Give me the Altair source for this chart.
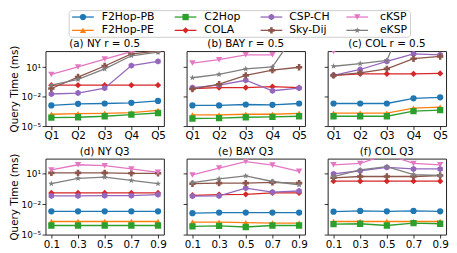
import math
import altair as alt
import pandas as pd

# ---------------- data (query time in ms) ----------------
methods = ["F2Hop-PB", "F2Hop-PE", "C2Hop", "COLA", "CSP-CH", "Sky-Dij", "cKSP", "eKSP"]
colors = ["#1f77b4", "#ff7f0e", "#2ca02c", "#d62728", "#9467bd", "#8c564b", "#e377c2", "#7f7f7f"]
q_labels = ["Q1", "Q2", "Q3", "Q4", "Q5"]
r_labels = ["0.1", "0.3", "0.5", "0.7", "0.9"]
titles = ["(a) NY r = 0.5", "(b) BAY r = 0.5", "(c) COL r = 0.5",
          "(d) NY Q3", "(e) BAY Q3", "(f) COL Q3"]

ny_r05 = {
    "F2Hop-PB": [0.00126, 0.00186, 0.0020, 0.00234, 0.0037],
    "F2Hop-PE": [1.6e-4, 1.86e-4, 2.0e-4, 2.34e-4, 4.0e-4],
    "C2Hop":    [7.4e-5, 7.9e-5, 1.0e-4, 1.48e-4, 2.14e-4],
    "COLA":     [0.148, 0.148, 0.148, 0.148, 0.148],
    "CSP-CH":   [0.0186, 0.0234, 0.074, 14.8, 40],
    "Sky-Dij":  [0.068, 1.0, 13.5, 234, 440],
    "cKSP":     [1.86, 10.7, 68, 400, 1600],
    "eKSP":     [0.148, 0.59, 6.8, 148, 340],
}
bay_r05 = {
    "F2Hop-PB": [0.00126, 0.00126, 0.00158, 0.00148, 0.0020],
    "F2Hop-PE": [1.35e-4, 1.35e-4, 1.6e-4, 1.6e-4, 2.0e-4],
    "C2Hop":    [5.9e-5, 6.3e-5, 7.9e-5, 8.5e-5, 1.0e-4],
    "COLA":     [0.068, 0.085, 0.085, 0.107, 0.085],
    "CSP-CH":   [0.085, 0.148, 0.47, 0.04, 0.074],
    "Sky-Dij":  [0.059, 0.186, 1.48, 5.0, 10],
    "cKSP":     [27, 59, 186, 186, None],
    "eKSP":     [0.85, 1.86, 6.8, 10.7, 1.0e5],
}
col_r05 = {
    "F2Hop-PB": [0.0020, 0.0020, 0.0020, 0.0068, 0.0085],
    "F2Hop-PE": [2.1e-4, 2.1e-4, 2.1e-4, 6.8e-4, 8.5e-4],
    "C2Hop":    [1.0e-4, 1.0e-4, 1.0e-4, 3.4e-4, 4.3e-4],
    "COLA":     [1.48, 2.14, 2.14, 2.14, 2.34],
    "CSP-CH":   [1.48, 5.9, 40, 234, 186],
    "Sky-Dij":  [1.48, 2.7, 6.8, 74, 126],
    "cKSP":     [400, 1.0e4, 1.0e4, 1.0e4, 1.0e4],
    "eKSP":     [12.6, 23, 50, 1.0e8, 1.0e8],
}
ny_q3 = {
    "F2Hop-PB": [0.0020, 0.0020, 0.0020, 0.0020, 0.0020],
    "F2Hop-PE": [1.95e-4, 1.95e-4, 1.95e-4, 1.95e-4, 1.95e-4],
    "C2Hop":    [7.9e-5, 7.9e-5, 7.9e-5, 7.9e-5, 7.9e-5],
    "COLA":     [0.129, 0.129, 0.129, 0.129, 0.129],
    "CSP-CH":   [0.066, 0.066, 0.071, 0.071, 0.089],
    "Sky-Dij":  [12.3, 12.3, 12.3, 11.2, 11.2],
    "cKSP":     [24, 78, 63, 30, 14],
    "eKSP":     [1.05, 3.6, 4.6, 2.2, 1.05],
}
bay_q3 = {
    "F2Hop-PB": [0.00129, 0.00148, 0.00148, 0.00148, 0.00148],
    "F2Hop-PE": [1.7e-4, 1.7e-4, 1.48e-4, 1.38e-4, 1.38e-4],
    "C2Hop":    [6.5e-5, 7.4e-5, 5.6e-5, 7.9e-5, 7.9e-5],
    "COLA":     [0.076, 0.089, 0.095, 0.129, 0.129],
    "CSP-CH":   [0.062, 0.066, 0.39, 0.158, 0.20],
    "Sky-Dij":  [1.05, 1.2, 1.2, 1.41, 1.2],
    "cKSP":     [7.8, 37, 162, 72, 17.4],
    "eKSP":     [1.32, 3.2, 6.3, 1.74, 0.83],
}
col_q3 = {
    "F2Hop-PB": [0.0018, 0.00214, 0.0020, 0.00214, 0.0020],
    "F2Hop-PE": [1.95e-4, 1.95e-4, 1.95e-4, 1.95e-4, 1.95e-4],
    "C2Hop":    [1.1e-4, 1.17e-4, 7.9e-5, 1.38e-4, 1.17e-4],
    "COLA":     [1.86, 1.86, 1.86, 1.86, 1.86],
    "CSP-CH":   [9.8, 20, 43, 30, 30],
    "Sky-Dij":  [4.0, 5.4, 5.4, 5.4, 6.8],
    "cKSP":     [78, 105, 800, 105, 78],
    "eKSP":     [5.4, 24, 50, 8.3, 6.8],
}

# ---------------- styling ----------------
FONT = "DejaVu Sans"
PANEL_W = 120
hexagon = "M0,-1L0.866,-0.5L0.866,0.5L0,1L-0.866,0.5L-0.866,-0.5Z"
star_pts = []
for k in range(10):
    ang = -math.pi / 2 + k * math.pi / 5
    rr = 1.0 if k % 2 == 0 else 0.42
    star_pts.append(f"{rr * math.cos(ang):.3f},{rr * math.sin(ang):.3f}")
star = "M" + "L".join(star_pts) + "Z"
shapes = ["circle", "triangle-up", "square", "diamond", hexagon, "cross", "triangle-down", star]
sizes = [40, 42, 36, 55, 48, 46, 48, 72]

color_scale = alt.Scale(domain=methods, range=colors)
shape_scale = alt.Scale(domain=methods, range=shapes)
size_scale = alt.Scale(domain=methods, range=sizes)

YTOP = {1: 10 ** 2.65, 2: 10 ** 2.5}
label_expr = ("datum.value > 1 ? '10\u00b9' : datum.value > 0.001 ? '10\u207b\u00b2' : '10\u207b\u2075'")

# legend layout (relative to the middle panel of row 1)
leg_marker_x = [-105, -1, 86, 173]
leg_text_x = [-86, 18, 104, 196]
leg_row_y = [-34.5, -21]


def panel(series, xlabels, title, first_col, row, with_legend=False):
    recs = []
    for m in methods:
        for xl, v in zip(xlabels, series[m]):
            recs.append({"method": m, "x": xl, "t": v})
    df = pd.DataFrame(recs)
    x = alt.X("x:O", sort=xlabels,
              scale=alt.Scale(type="point", domain=xlabels, padding=0.22),
              axis=alt.Axis(title=None, labelAngle=0, labelFontSize=10.5, labelPadding=1.5))
    y = alt.Y("t:Q",
              scale=alt.Scale(type="log", domain=[1e-5, YTOP[row]], nice=False),
              axis=alt.Axis(values=[1e-5, 1e-2, 10], labelExpr=label_expr, labels=first_col,
                            labelFontSize=9, labelPadding=1.5, grid=False,
                            title="Query Time (ms)" if first_col else None,
                            titleFontSize=10.5, titlePadding=2))
    color = alt.Color("method:N", scale=color_scale, legend=None)
    base = alt.Chart(df)
    lines = base.mark_line(clip=True, strokeWidth=1.3).encode(x=x, y=y, color=color)
    pts = base.mark_point(clip=True, filled=True, opacity=1).encode(
        x=x, y=y, color=color,
        shape=alt.Shape("method:N", scale=shape_scale, legend=None),
        size=alt.Size("method:N", scale=size_scale, legend=None))
    ttl = alt.Chart(pd.DataFrame({"title": [title]})).mark_text(
        fontSize=10.5, font=FONT, align="center", baseline="alphabetic", color="black").encode(
        x=alt.value(PANEL_W / 2), y=alt.value(-4), text="title:N")
    layers = [lines, pts, ttl]
    if with_legend:
        lrec = []
        for i, m in enumerate(methods):
            c, r = i // 2, i % 2
            lrec.append({"method": m, "mx": leg_marker_x[c], "x1": leg_marker_x[c] - 11,
                         "x2": leg_marker_x[c] + 11, "tx": leg_text_x[c], "ly": leg_row_y[r]})
        ldf = pd.DataFrame(lrec)
        lb = alt.Chart(ldf)
        box = alt.Chart(pd.DataFrame({"k": [0]})).mark_rect(
            fill="white", stroke="#cccccc", strokeWidth=1, cornerRadius=3).encode(
            x=alt.value(-119), x2=alt.value(227), y=alt.value(-41), y2=alt.value(-14))
        lrule = lb.mark_rule(strokeWidth=1.3).encode(
            x=alt.X("x1:Q", scale=None, axis=None), x2="x2:Q",
            y=alt.Y("ly:Q", scale=None, axis=None), color=color)
        lpt = lb.mark_point(filled=True, opacity=1).encode(
            x=alt.X("mx:Q", scale=None, axis=None), y=alt.Y("ly:Q", scale=None, axis=None),
            color=color,
            shape=alt.Shape("method:N", scale=shape_scale, legend=None),
            size=alt.Size("method:N", scale=size_scale, legend=None))
        ltx = lb.mark_text(align="left", baseline="middle", fontSize=11, font=FONT, color="black").encode(
            x=alt.X("tx:Q", scale=None, axis=None), y=alt.Y("ly:Q", scale=None, axis=None),
            text="method:N")
        layers = [box, lrule, lpt, ltx] + layers
    return alt.layer(*layers).properties(width=PANEL_W, height=76 if row == 1 else 77)


charts = [
    panel(ny_r05, q_labels, titles[0], True, 1),
    panel(bay_r05, q_labels, titles[1], False, 1, with_legend=True),
    panel(col_r05, q_labels, titles[2], False, 1),
    panel(ny_q3, r_labels, titles[3], True, 2),
    panel(bay_q3, r_labels, titles[4], False, 2),
    panel(col_q3, r_labels, titles[5], False, 2),
]

chart = alt.concat(*charts, columns=3, bounds="flush",
                   spacing={"row": 33, "column": 23}).properties(
    padding=0, background="white"
).configure_view(
    stroke="#222222", strokeWidth=1
).configure_axis(
    domain=False, tickColor="black", tickSize=3.5, tickWidth=0.8,
    labelColor="black", labelFont=FONT, titleFont=FONT, titleFontWeight="normal",
    titleColor="black"
)

chart.save("out.html", embed_options={"renderer": "svg", "actions": False})
